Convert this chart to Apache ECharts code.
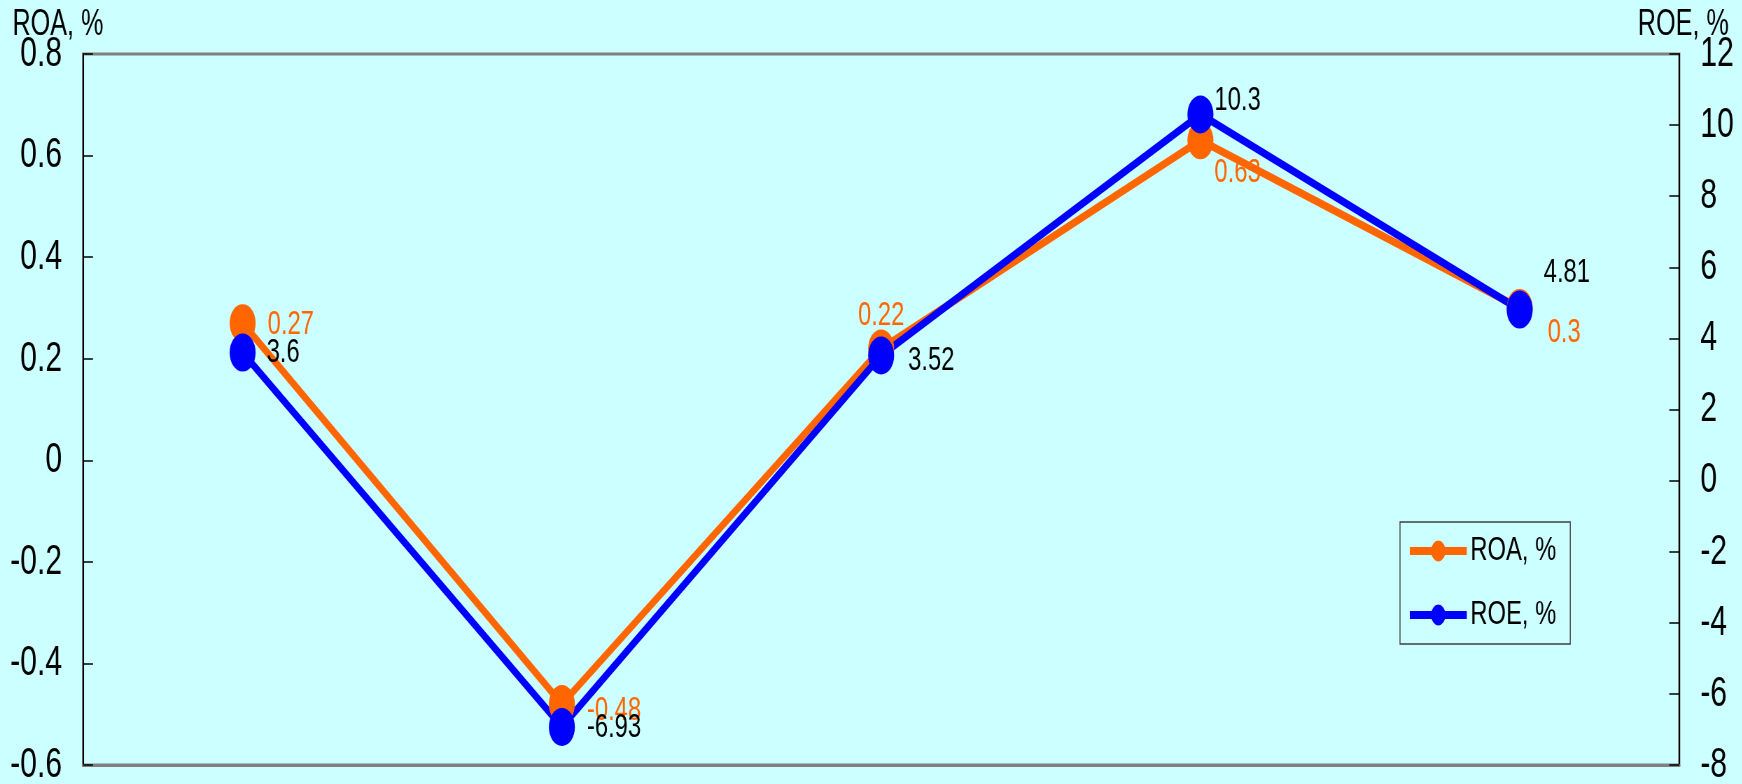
<!DOCTYPE html>
<html>
<head>
<meta charset="utf-8">
<script src="https://cdn.jsdelivr.net/npm/echarts@6/dist/echarts.min.js"></script>
<style>
html,body{margin:0;padding:0;background:#CCFFFF;overflow:hidden;}
#wrap{width:1742px;height:784px;overflow:hidden;position:relative;}
#c{width:2489px;height:784px;transform:scaleX(0.7);transform-origin:0 0;position:absolute;left:0;top:0;}
</style>
</head>
<body>
<div id="wrap"><div id="c"></div></div>
<script>
// Data
const categories = ['1', '2', '3', '4', '5'];
const roaValues = [0.27, -0.48, 0.22, 0.63, 0.3];
const roeValues = [3.6, -6.93, 3.52, 10.3, 4.81];
const roaTicks = { min: -0.6, max: 0.8, interval: 0.2 };
const roeTicks = { min: -8, max: 12, interval: 2 };

// The reference uses a very condensed typeface; the chart is drawn on a wider
// canvas and compressed horizontally by S so that text gets the same narrow shape.
const S = 0.7;
const X = v => v / S; // convert a final horizontal pixel amount to canvas pixels

// label placement (style only), in final pixels
const roaLabelOffsets = [[12, 1], [12, 7], null, [1, 32], [15, 25]];
const roeLabelOffsets = [[11, 0], [12, 1], [14, 5], [1, -14], [11, -37]];

const FONT = "'Liberation Sans', Arial, sans-serif";
const ORANGE = '#FF6600';
const BLUE = '#0000FF';

function buildData(values, offsets, special) {
  return values.map((v, i) => {
    const item = { value: v };
    if (offsets[i]) {
      item.label = { position: 'right', distance: 0, offset: [X(offsets[i][0]), offsets[i][1]] };
    } else if (special && special[i]) {
      item.label = special[i];
    }
    return item;
  });
}

const roaData = buildData(roaValues, roaLabelOffsets, { 2: { position: 'inside', offset: [0, -33] } });
const roeData = buildData(roeValues, roeLabelOffsets);

const chart = echarts.init(document.getElementById('c'), null, { width: 2489, height: 784 });
chart.setOption({
  backgroundColor: '#CCFFFF',
  animation: false,
  textStyle: { fontFamily: FONT },
  grid: {
    left: X(83), right: X(63), top: 54, bottom: 19,
    containLabel: false, outerBoundsMode: 'none',
    show: true, borderColor: '#808080', borderWidth: 3, backgroundColor: 'transparent'
  },
  legend: {
    orient: 'vertical',
    left: X(1400), top: 522,
    padding: [12, X(14), 12, X(7)],
    borderColor: '#404040', borderWidth: 1.4,
    itemWidth: X(57), itemHeight: 26, itemGap: 30,
    lineStyle: { width: 8 },
    textStyle: { fontFamily: FONT, fontSize: 34, color: '#000', lineHeight: 34 },
    data: ['ROA, %', 'ROE, %']
  },
  xAxis: {
    type: 'category',
    data: categories,
    boundaryGap: true,
    axisLine: { onZero: false, lineStyle: { color: '#808080', width: 3 } },
    axisTick: { show: false },
    axisLabel: { show: false },
    splitLine: { show: false }
  },
  yAxis: [
    {
      type: 'value',
      position: 'left',
      min: roaTicks.min, max: roaTicks.max, interval: roaTicks.interval,
      name: 'ROA, %',
      nameLocation: 'end',
      nameGap: 29,
      nameMoveOverlap: false,
      nameTextStyle: { fontFamily: FONT, fontSize: 36, color: '#000', align: 'center', verticalAlign: 'middle', padding: [0, X(50), 0, 0] },
      axisLine: { show: true, onZero: false, lineStyle: { color: '#000', width: 2 } },
      axisTick: { show: true, inside: true, length: X(10), lineStyle: { color: '#000', width: 1.5 } },
      axisLabel: { fontFamily: FONT, fontSize: 43, color: '#000', margin: X(21) },
      splitLine: { show: false }
    },
    {
      type: 'value',
      position: 'right',
      min: roeTicks.min, max: roeTicks.max, interval: roeTicks.interval,
      name: 'ROE, %',
      nameLocation: 'end',
      nameGap: 29,
      nameMoveOverlap: false,
      nameTextStyle: { fontFamily: FONT, fontSize: 36, color: '#000', align: 'center', verticalAlign: 'middle', padding: [0, 0, 0, X(8)] },
      axisLine: { show: true, onZero: false, lineStyle: { color: '#000', width: 2 } },
      axisTick: { show: true, inside: true, length: X(10), lineStyle: { color: '#000', width: 1.5 } },
      axisLabel: { fontFamily: FONT, fontSize: 43, color: '#000', margin: X(21) },
      splitLine: { show: false }
    }
  ],
  series: [
    {
      name: 'ROA, %',
      type: 'line',
      yAxisIndex: 0,
      data: roaData,
      symbol: 'circle',
      symbolSize: [X(26), 38],
      showAllSymbol: true,
      lineStyle: { color: ORANGE, width: 8 },
      itemStyle: { color: ORANGE },
      label: { show: true, fontFamily: FONT, fontSize: 34, color: ORANGE },
      emphasis: { disabled: true }
    },
    {
      name: 'ROE, %',
      type: 'line',
      yAxisIndex: 1,
      data: roeData,
      symbol: 'circle',
      symbolSize: [X(26), 38],
      showAllSymbol: true,
      lineStyle: { color: BLUE, width: 8 },
      itemStyle: { color: BLUE },
      label: { show: true, fontFamily: FONT, fontSize: 34, color: '#000' },
      emphasis: { disabled: true }
    }
  ]
});
</script>
</body>
</html>
